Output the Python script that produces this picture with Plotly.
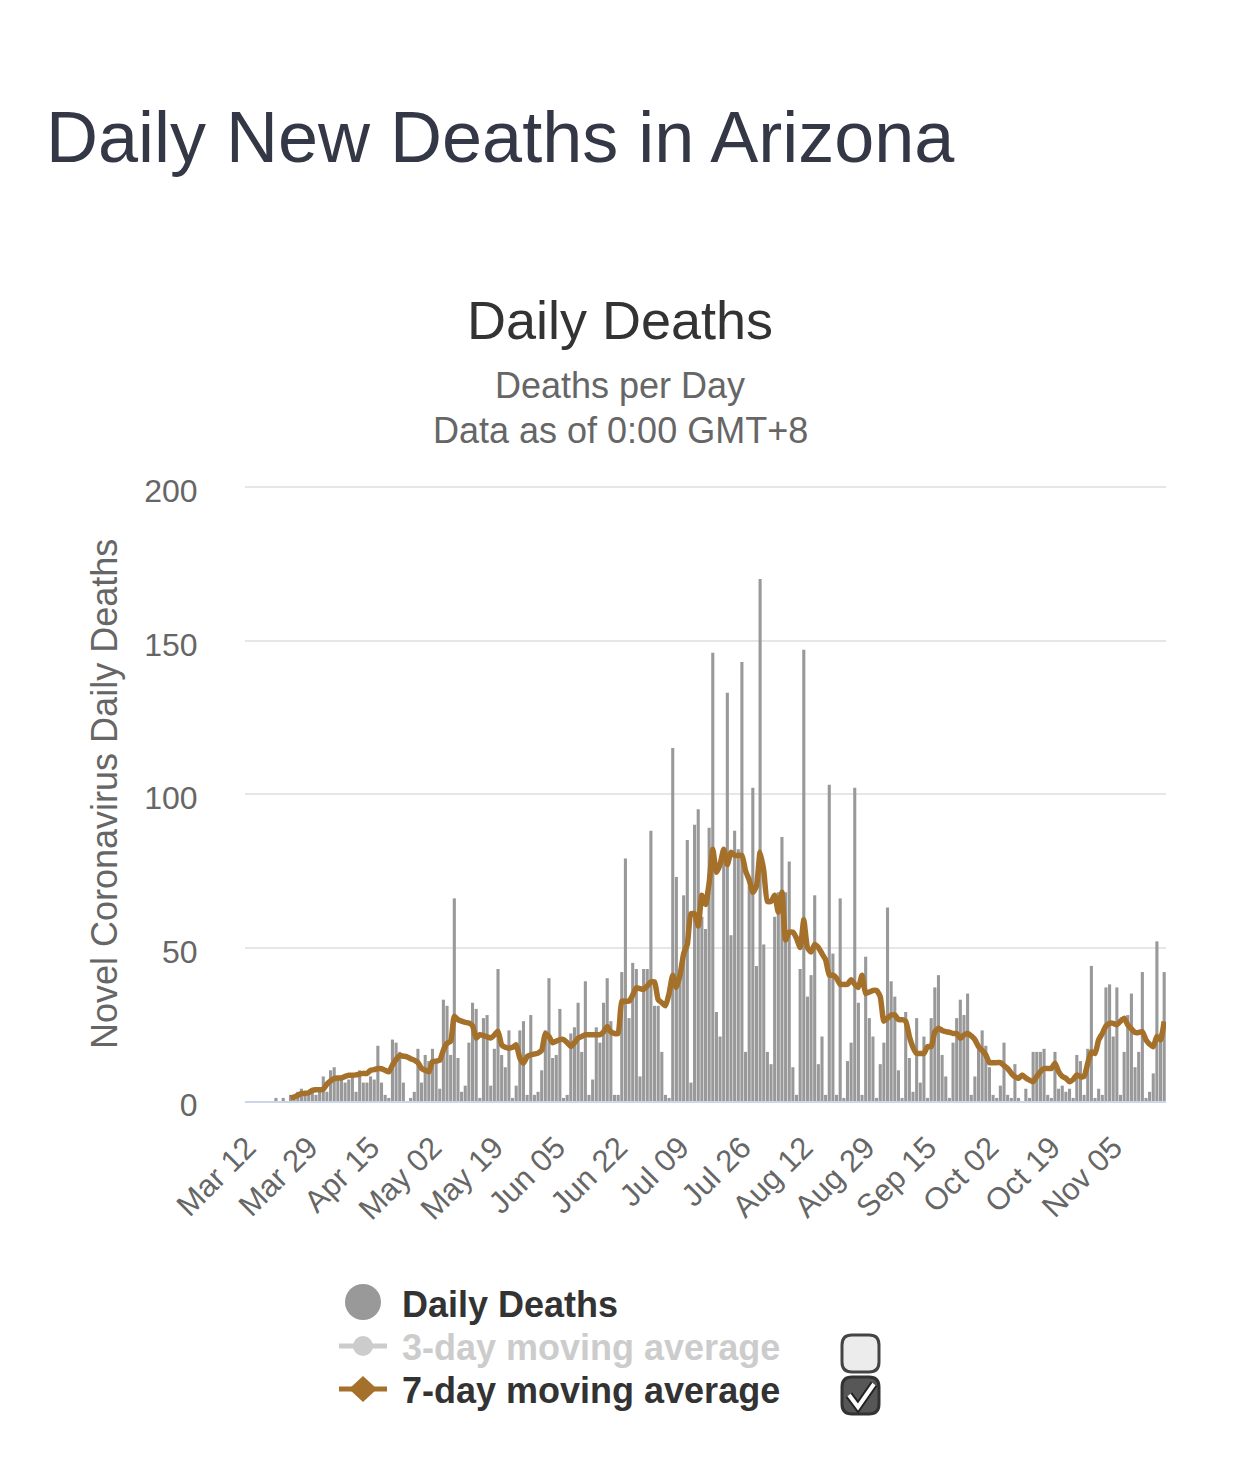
import plotly.graph_objects as go
import pandas as pd

# ---------------- data ----------------
dates = pd.date_range("2020-03-12", "2020-11-19", freq="D")
categories = [d.strftime("%b %d") for d in dates]

tick_labels = ["Mar 12", "Mar 29", "Apr 15", "May 02", "May 19", "Jun 05", "Jun 22",
               "Jul 09", "Jul 26", "Aug 12", "Aug 29", "Sep 15", "Oct 02", "Oct 19", "Nov 05"]

daily_mar = [None, None, None, None, None, None, 0, 0, 1, 0, 1, 0, 2, 1, 3, 4, 2, 2, 3, 2]
daily_apr = [3, 8, 3, 10, 11, 7, 7, 6, 7, 9, 3, 10, 6, 6, 8, 7, 18, 6, 2, 1,
             20, 19, 16, 6, 0, 1, 3, 17, 6, 15]
daily_may = [13, 17, 13, 4, 33, 31, 15, 66, 14, 3, 5, 19, 32, 30, 1, 27, 28, 5, 17, 43,
             15, 11, 23, 1, 5, 23, 26, 2, 28, 2, 3]
daily_jun = [10, 23, 40, 14, 15, 30, 1, 2, 22, 24, 32, 16, 39, 2, 7, 24, 19, 32, 40, 26,
             2, 2, 42, 79, 27, 45, 43, 8, 43, 43]
daily_jul = [88, 31, 31, 16, 2, 1, 115, 73, 42, 67, 85, 6, 90, 95, 60, 56, 89, 146, 29, 21,
             78, 133, 54, 88, 82, 143, 16, 70, 102, 44, 170]
daily_aug = [51, 16, 12, 60, 68, 86, 68, 78, 11, 2, 43, 147, 34, 41, 67, 12, 21, 2, 103, 48,
             2, 66, 1, 13, 19, 102, 32, 2, 47, 27, 21]
daily_sep = [1, 12, 19, 63, 39, 34, 10, 1, 29, 14, 3, 27, 6, 21, 1, 27, 37, 41, 15, 8,
             1, 19, 27, 33, 28, 35, 2, 8, 17, 23]
daily_oct = [18, 11, 2, 1, 5, 19, 2, 1, 12, 1, 0, 4, 1, 16, 16, 16, 17, 2, 1, 16,
             4, 5, 3, 4, 1, 15, 13, 2, 17, 44, 1]
daily_nov = [4, 2, 37, 38, 21, 37, 2, 16, 28, 35, 11, 16, 42, 1, 3, 9, 52, 22, 42]

ma7_mar = [None] * 12 + [1.0, 1.3, 1.9, 2.4, 2.5, 2.7, 3.5, 3.7]
ma7_apr = [3.7, 3.8, 5.5, 6.5, 7.3, 7.5, 7.5, 8.0, 8.4, 8.4, 8.5, 8.8, 9.0, 9.0, 10.0,
           10.2, 10.6, 10.5, 10.0, 9.5, 11.7, 13.5, 14.8, 14.6, 14.4, 13.8, 13.3, 12.5, 10.6, 10.0]
ma7_may = [9.5, 12.8, 13.0, 13.3, 16.6, 18.8, 19.5, 27.6, 26.5, 26.0, 25.6, 25.4, 24.5, 20.5,
           21.6, 21.3, 20.9, 20.5, 21.5, 22.7, 18.3, 17.5, 17.2, 17.5, 18.3, 14.0, 12.3, 14.5,
           15.0, 15.3, 15.6]
ma7_jun = [16.5, 22.0, 21.0, 19.0, 19.5, 20.0, 20.0, 19.0, 17.8, 19.0, 20.5, 21.0, 21.6, 21.6,
           21.6, 21.6, 21.6, 22.5, 24.3, 22.5, 22.0, 22.0, 32.5, 32.5, 32.5, 34.5, 36.9, 36.6,
           36.4, 37.5]
ma7_jul = [38.8, 38.8, 33.0, 32.0, 31.0, 35.0, 41.0, 37.0, 41.0, 48.0, 51.0, 61.0, 61.0, 57.0,
           67.0, 64.0, 71.0, 82.0, 74.5, 77.0, 82.0, 77.0, 81.0, 80.0, 80.0, 80.0, 75.0, 72.0,
           68.0, 70.0, 81.0]
ma7_aug = [75.0, 65.0, 65.0, 67.0, 61.5, 68.0, 52.5, 55.0, 55.0, 53.0, 50.0, 59.0, 50.0, 48.5,
           51.0, 50.0, 48.0, 46.0, 41.0, 41.0, 40.0, 38.0, 38.0, 38.0, 39.5, 38.0, 37.0, 41.0,
           35.0, 35.5, 36.0]
ma7_sep = [36.0, 34.0, 26.0, 27.0, 28.0, 28.0, 26.5, 26.5, 26.0, 21.0, 17.5, 15.5, 15.5, 15.5,
           17.7, 17.7, 22.5, 23.7, 23.0, 22.6, 22.4, 22.0, 22.0, 20.4, 21.5, 22.0, 21.2, 20.0,
           17.7, 16.5]
ma7_oct = [15.0, 12.5, 12.5, 12.5, 12.5, 11.5, 10.6, 9.0, 7.9, 7.4, 8.5, 7.5, 6.8, 6.3, 8.0,
           9.6, 10.6, 10.6, 10.6, 12.3, 9.6, 8.0, 7.4, 6.3, 7.0, 8.5, 7.9, 8.0, 12.3, 16.0, 15.5]
ma7_nov = [19.9, 22.0, 24.4, 25.3, 25.3, 24.8, 26.0, 27.0, 24.8, 23.5, 22.3, 22.3, 22.6, 19.9,
           18.5, 17.7, 21.0, 19.9, 25.9]

daily_deaths = (daily_mar + daily_apr + daily_may + daily_jun + daily_jul + daily_aug
                + daily_sep + daily_oct + daily_nov)
ma7 = ma7_mar + ma7_apr + ma7_may + ma7_jun + ma7_jul + ma7_aug + ma7_sep + ma7_oct + ma7_nov

y_ticks = [0, 50, 100, 150, 200]

# ---------------- geometry helpers (page pixels -> paper) ----------------
W, H = 1226, 1464
L, R, T, B = 237, 68, 479, 371
PW, PH = W - L - R, H - T - B
OFF = 8


def fx(px):
    return (px - OFF - L) / PW


def fy(py):
    return (H - B - (py - OFF)) / PH


def path(points, close=False):
    s = "M " + " L ".join(f"{fx(x):.5f},{fy(y):.5f}" for x, y in points)
    return s + (" Z" if close else "")


def rrect(x0, y0, x1, y1, r):
    def p(x, y):
        return f"{fx(x):.5f},{fy(y):.5f}"
    return (f"M {p(x0 + r, y0)} L {p(x1 - r, y0)} Q {p(x1, y0)} {p(x1, y0 + r)} "
            f"L {p(x1, y1 - r)} Q {p(x1, y1)} {p(x1 - r, y1)} L {p(x0 + r, y1)} "
            f"Q {p(x0, y1)} {p(x0, y1 - r)} L {p(x0, y0 + r)} Q {p(x0, y0)} {p(x0 + r, y0)} Z")


BROWN = "#A5702A"
GREY = "#999999"
FONT = "Liberation Sans, Arial, sans-serif"

fig = go.Figure()
fig.add_trace(go.Bar(x=categories, y=daily_deaths, name="Daily Deaths",
                     marker=dict(color=GREY, line=dict(width=0)), showlegend=False))
fig.add_trace(go.Scatter(x=categories, y=ma7, name="7-day moving average", mode="lines",
                         line=dict(color=BROWN, width=5.5, shape="spline", smoothing=0.5),
                         connectgaps=False, showlegend=False))

annotations = [
    dict(text="Daily New Deaths in Arizona", x=fx(44), y=fy(137), xanchor="left", yanchor="middle",
         font=dict(size=72, color="#343745", family=FONT)),
    dict(text="Daily Deaths", x=fx(620), y=fy(320), xanchor="center", yanchor="middle",
         font=dict(size=54, color="#333333", family=FONT)),
    dict(text="Deaths per Day", x=fx(620), y=fy(386), xanchor="center", yanchor="middle",
         font=dict(size=36, color="#666666", family=FONT)),
    dict(text="Data as of 0:00 GMT+8", x=fx(620), y=fy(430), xanchor="center", yanchor="middle",
         font=dict(size=36, color="#666666", family=FONT)),
    dict(text="Novel Coronavirus Daily Deaths", x=fx(104), y=fy(794), textangle=-90,
         xanchor="center", yanchor="middle", font=dict(size=36, color="#666666", family=FONT)),
    dict(text="<b>Daily Deaths</b>", x=fx(400), y=fy(1304), xanchor="left", yanchor="middle",
         font=dict(size=36, color="#333333", family=FONT)),
    dict(text="<b>3-day moving average</b>", x=fx(400), y=fy(1347), xanchor="left", yanchor="middle",
         font=dict(size=36, color="#cccccc", family=FONT)),
    dict(text="<b>7-day moving average</b>", x=fx(400), y=fy(1390), xanchor="left", yanchor="middle",
         font=dict(size=36, color="#333333", family=FONT)),
]
for a in annotations:
    a.update(xref="paper", yref="paper", showarrow=False)

shapes = [
    # top grid line (y = 200, at the top edge of the plot area)
    dict(type="line", x0=0, x1=1, y0=1, y1=1, line=dict(color="#e6e6e6", width=2), layer="below"),
    # Daily Deaths legend circle
    dict(type="circle", x0=fx(345), x1=fx(381), y0=fy(1320), y1=fy(1284),
         fillcolor=GREY, line=dict(width=0)),
    # 3-day legend symbol
    dict(type="line", x0=fx(339), x1=fx(387), y0=fy(1346), y1=fy(1346),
         line=dict(color="#cccccc", width=5)),
    dict(type="circle", x0=fx(353), x1=fx(373), y0=fy(1356), y1=fy(1336),
         fillcolor="#cccccc", line=dict(width=0)),
    # 7-day legend symbol
    dict(type="line", x0=fx(339), x1=fx(387), y0=fy(1389), y1=fy(1389),
         line=dict(color=BROWN, width=5)),
    dict(type="path", path=path([(363, 1376), (377, 1389), (363, 1402), (349, 1389)], close=True),
         fillcolor=BROWN, line=dict(width=0)),
    # checkboxes
    dict(type="path", path=rrect(842, 1335, 879, 1372, 10), fillcolor="#ececec",
         line=dict(color="#444444", width=3)),
    dict(type="path", path=rrect(842, 1377, 879, 1414, 10), fillcolor="#575757",
         line=dict(color="#333333", width=3)),
    dict(type="path", path=path([(849, 1395), (858, 1407), (874, 1384)]),
         line=dict(color="#222222", width=8)),
    dict(type="path", path=path([(849, 1395), (858, 1407), (874, 1384)]),
         line=dict(color="#ffffff", width=4)),
]
for s in shapes:
    s.update(xref="paper", yref="paper")
    s.setdefault("layer", "above")

fig.update_layout(
    width=W, height=H,
    margin=dict(l=L, r=R, t=T, b=B, pad=0),
    paper_bgcolor="white", plot_bgcolor="white",
    bargap=0.15,
    showlegend=False,
    font=dict(family=FONT, color="#666666"),
    annotations=annotations,
    shapes=shapes,
    xaxis=dict(type="category", range=[-0.5, len(categories) - 0.5],
               tickmode="array", tickvals=tick_labels, ticktext=tick_labels,
               tickangle=-45, tickfont=dict(size=31, color="#666666", family=FONT),
               ticks="outside", ticklen=14, tickcolor="rgba(0,0,0,0)",
               showgrid=False, showline=True, linecolor="#ccd6eb", linewidth=2,
               zeroline=False, fixedrange=True),
    yaxis=dict(range=[0, 200], tickmode="array", tickvals=y_ticks,
               tickfont=dict(size=32, color="#666666", family=FONT),
               ticks="outside", ticklen=40, tickcolor="rgba(0,0,0,0)",
               ticklabelshift=4,
               showgrid=True, gridcolor="#e6e6e6", gridwidth=2,
               zeroline=False, showline=False, fixedrange=True),
)

fig.write_html("out.html")
